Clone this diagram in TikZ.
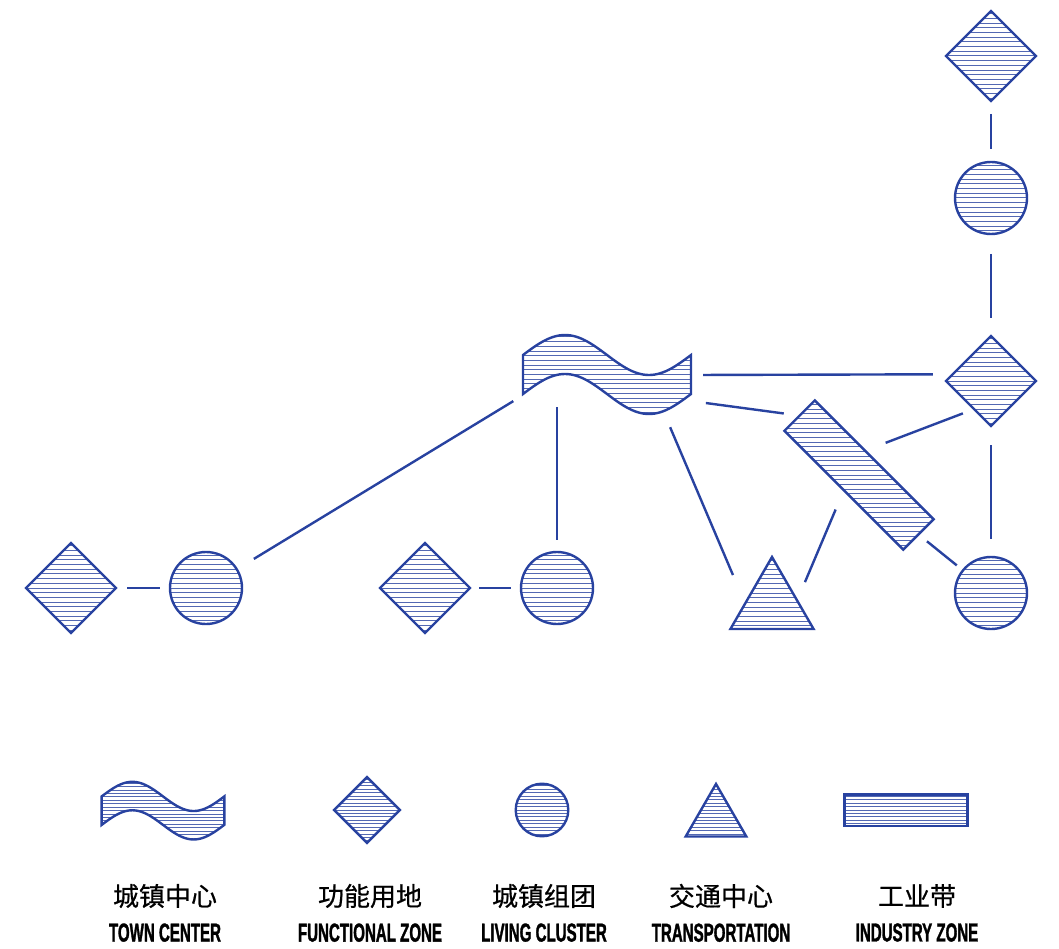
\documentclass[tikz,border=0pt]{standalone}
\usepackage{fontspec}
\usepackage{xcolor}
\usepackage{tikz}
\usetikzlibrary{positioning,shapes.geometric,calc}
\newfontfamily\cnfont[FakeBold=0.6]{Noto Sans CJK SC}
\newfontfamily\enfont[FakeStretch=0.58, FakeBold=1.2]{Liberation Sans}
\definecolor{zoneblue}{RGB}{40,66,160}
\tikzstyle{hatchline}=[zoneblue!80, line width=1pt]
\tikzstyle{hatch}=[path picture={\foreach \k in {-30,...,30} \draw[hatchline] ([xshift=-150pt, yshift=\k*4.7pt]path picture bounding box.center) -- ++(300pt,0);}]
\tikzstyle{zone}=[draw=zoneblue, line width=2.4pt]
\tikzstyle{functional}=[zone, hatch, diamond, minimum size=90pt, inner sep=0pt, outer sep=0pt]
\tikzstyle{living}=[zone, hatch, circle, minimum size=72pt, inner sep=0pt, outer sep=0pt]
\tikzstyle{transport}=[zone, hatch, regular polygon, regular polygon sides=3, minimum size=96pt, inner sep=0pt, outer sep=0pt]
\tikzstyle{industry}=[zone, rectangle, minimum width=168pt, minimum height=43pt, inner sep=0pt, outer sep=0pt]
\tikzstyle{wavebox}=[rectangle, minimum width=172pt, minimum height=86pt, inner sep=0pt, outer sep=0pt]
\tikzstyle{wave}=[insert path={plot[domain=0:360, samples=61] ({-84+\x*0.46667},{-20-20*sin(\x)}) -- plot[domain=360:0, samples=61] ({-84+\x*0.46667},{19-20*sin(\x)}) -- cycle}]
\tikzstyle{link}=[draw=zoneblue, line width=2.4pt]
\tikzstyle{legend}=[scale=0.73, transform shape]
\tikzstyle{cnlabel}=[font=\cnfont\fontsize{26pt}{30pt}\selectfont, inner sep=3pt, text=black]
\tikzstyle{enlabel}=[font=\enfont\bfseries\fontsize{26pt}{30pt}\selectfont, inner sep=3pt, text=black]

\begin{document}
\begin{tikzpicture}[x=1pt, y=-1pt, node distance=9pt]
        \useasboundingbox (0,0) rectangle (1059,949);

        \node[functional] (dtop) at (991,56) {};
        \node[living] (ctop) at (991,198) {};
        \node[functional] (dright) at (991,381) {};
        \node[living] (cright) at (991,593) {};
        \node[wavebox] (town) at (607,375) {};
        \draw[zone, hatch, shift={(town.center)}, wave];
        \node[industry, draw=none, rotate=-45] (indus) at (859,475) {};
        \begin{scope}
            \clip (indus.north west) -- (indus.north east) -- (indus.south east) -- (indus.south west) -- cycle;
            \foreach \k in {-17,...,17}
                \draw[hatchline] ([yshift=\k*4.7pt]indus.center) ++(-100,0) -- ++(200,0);
        \end{scope}
        \draw[zone] (indus.north west) -- (indus.north east) -- (indus.south east) -- (indus.south west) -- cycle;
        \node[transport] (trans) at (772,605) {};
        \node[functional] (dleft) at (71,588) {};
        \node[living] (cleft) at (206,588) {};
        \node[functional] (dmid) at (425,588) {};
        \node[living] (cmid) at (557,588) {};

        \draw[link, shorten <=13pt, shorten >=13pt] (dtop) -- (ctop);
        \draw[link, shorten <=20pt, shorten >=18pt] (ctop) -- (dright);
        \draw[link, shorten <=10pt, shorten >=20pt] (town.east) -- (dright.170);
        \draw[link, shorten <=13pt, shorten >=16pt] (town.-17) -- (indus.west);
        \draw[link, shorten <=12pt, shorten >=22pt] (dright.-121) -- (indus.121);
        \draw[link, shorten <=19pt, shorten >=18pt] (dright) -- (cright);
        \draw[link, shorten <=11pt, shorten >=8pt] (indus.east) -- (cright);
        \draw[link, shorten <=21pt, shorten >=20pt] (indus.south) -- (trans.10);
        \draw[link, shorten <=10pt, shorten >=31pt] (town.-36) -- (trans.177);
        \draw[link, shorten <=32pt, shorten >=12pt] (town.center -| cmid) -- (cmid);
        \draw[link, shorten <=9pt, shorten >=20pt] (town.194) -- (cleft);
        \draw[link, shorten <=11pt, shorten >=10pt] (dleft) -- (cleft);
        \draw[link, shorten <=9pt, shorten >=10pt] (dmid) -- (cmid);

        \node[wavebox, legend] (legtown) at (163,811) {};
        \draw[zone, hatch, shift={(legtown.center)}, scale=0.73, wave];
        \node[functional, legend] (legfunc) at (367,810) {};
        \node[living, legend] (legliving) at (542,810) {};
        \node[transport, legend] (legtrans) at (716,819) {};
        \node[industry, hatch, legend] (legindus) at (906,810) {};

        \node[cnlabel] (cntown) at (165,896) {城镇中心};
        \node[enlabel, below=of cntown] (entown) {TOWN CENTER};
        \node[cnlabel] (cnfunc) at (370,896) {功能用地};
        \node[enlabel, below=of cnfunc] (enfunc) {FUNCTIONAL ZONE};
        \node[cnlabel] (cnliving) at (544,896) {城镇组团};
        \node[enlabel, below=of cnliving] (enliving) {LIVING CLUSTER};
        \node[cnlabel] (cntrans) at (721,896) {交通中心};
        \node[enlabel, below=of cntrans] (entrans) {TRANSPORTATION};
        \node[cnlabel] (cnindus) at (917,896) {工业带};
        \node[enlabel, below=of cnindus] (enindus) {INDUSTRY ZONE};
    \end{tikzpicture}
\end{document}
